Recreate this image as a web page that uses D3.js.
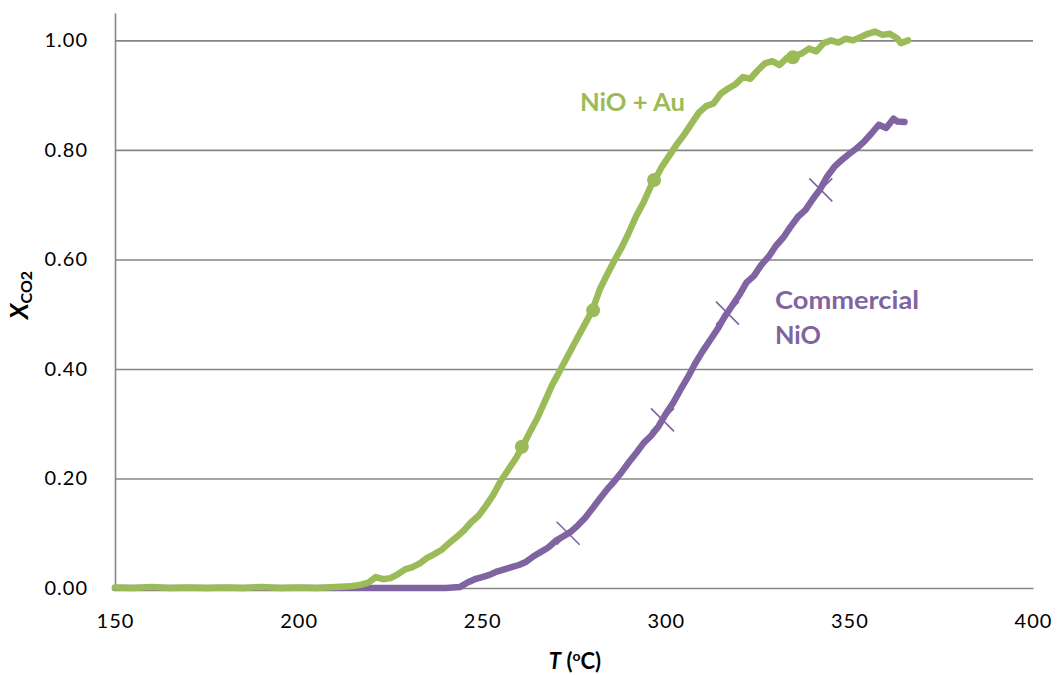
<!DOCTYPE html>
<html>
<head>
<meta charset="utf-8">
<script src="https://cdn.jsdelivr.net/npm/d3@7"></script>
<style>
  html, body { margin: 0; padding: 0; background: #fff; }
  svg { display: block; font-family: Lato, "Open Sans", sans-serif; }
</style>
</head>
<body>
<svg id="chart" width="1057" height="675"></svg>
<script>
// ---- data ----
const yTicks = [0, 0.2, 0.4, 0.6, 0.8, 1.0];
const xTicks = [150, 200, 250, 300, 350, 400];

const auT = [150,155,160,165,170,175,180,185,190,195,200,205,210,214,217,219,221,223,225,227,229,231,233,235,237,239,241,243,245,247,249,251,253,255,257,259,261,263,265,267,269,271,273,275,277,280,282,284,286,288,290,292,294,296,297,299,301,303,305,307,309,311,313,315,317,319,321,323,325,327,329,331,333,335,337,339,341,343,345,347,349,351,353,355,357,359,361,363,364,366];
const auX = [0.001,0,0.002,0,0.001,0,0.001,0,0.002,0,0.001,0,0.002,0.003,0.006,0.010,0.020,0.016,0.018,0.025,0.034,0.038,0.045,0.055,0.062,0.070,0.082,0.093,0.105,0.120,0.132,0.150,0.170,0.195,0.215,0.235,0.258,0.285,0.310,0.340,0.370,0.395,0.420,0.445,0.470,0.507,0.545,0.572,0.598,0.622,0.650,0.680,0.705,0.735,0.745,0.770,0.790,0.810,0.828,0.848,0.868,0.880,0.885,0.903,0.912,0.920,0.933,0.930,0.945,0.958,0.962,0.955,0.968,0.972,0.976,0.985,0.980,0.995,1.000,0.996,1.003,1.000,1.006,1.012,1.016,1.010,1.012,1.004,0.995,1.000];
const auMarkT = [260.8, 280.2, 296.8, 334.6];
const auMarkX = [0.258, 0.507, 0.745, 0.969];

const niT = [150,155,160,165,170,175,180,185,190,195,200,205,210,215,220,225,230,235,240,244,246,248,250,252,254,256,258,260,262,264,266,268,270,272,274,276,278,280,282,284,286,288,290,292,294,296,298,300,302,304,306,308,310,312,314,316,318,320,322,324,326,328,330,332,334,336,338,340,342,344,346,348,350,352,354,356,358,360,362,363,365];
const niX = [0,0,0,0,0,0,0,0,0,0,0,0,0,0,0,0,0,0,0,0.002,0.010,0.016,0.020,0.024,0.030,0.034,0.038,0.042,0.048,0.058,0.066,0.074,0.086,0.094,0.102,0.114,0.128,0.145,0.163,0.180,0.195,0.212,0.230,0.247,0.265,0.278,0.295,0.318,0.338,0.362,0.385,0.410,0.432,0.452,0.472,0.495,0.515,0.535,0.558,0.570,0.590,0.605,0.625,0.640,0.660,0.678,0.690,0.710,0.728,0.752,0.770,0.782,0.793,0.803,0.815,0.830,0.846,0.840,0.857,0.852,0.851];
const niMarkT = [273.4, 299.1, 316.8, 342.2];
const niMarkX = [0.100, 0.307, 0.502, 0.727];

const green = "#9BBB59";
const purple = "#8064A2";
const gridColor = "#868686";

// ---- layout ----
const svg = d3.select("#chart");
const x = d3.scaleLinear().domain([150, 400]).range([115, 1033]);
const y = d3.scaleLinear().domain([0, 1.05]).range([588, 13]);

// gridlines
svg.append("g")
  .attr("transform", `translate(${x(150)},0)`)
  .call(d3.axisLeft(y).tickValues(yTicks.filter(d => d > 0)).tickSize(-(x(400) - x(150))).tickFormat(""))
  .call(g => g.select(".domain").remove())
  .call(g => g.selectAll("line").attr("stroke", gridColor).attr("stroke-width", 1.6));

// y axis labels
svg.append("g")
  .attr("transform", `translate(${x(150)},0)`)
  .call(d3.axisLeft(y).tickValues(yTicks).tickSize(0).tickPadding(27).tickFormat(d3.format(".2f")))
  .call(g => g.select(".domain").attr("stroke", gridColor).attr("stroke-width", 1.6))
  .call(g => g.selectAll("text").attr("font-size", 20).attr("letter-spacing", 1).attr("fill", "#000").attr("font-family", "Lato, 'Open Sans', sans-serif"));

// x axis
svg.append("g")
  .attr("transform", `translate(0,${y(0)})`)
  .call(d3.axisBottom(x).tickValues(xTicks).tickSize(0).tickPadding(26).tickFormat(d3.format("d")))
  .call(g => g.select(".domain").attr("stroke", gridColor).attr("stroke-width", 1.6))
  .call(g => g.selectAll("text").attr("font-size", 20).attr("letter-spacing", 1).attr("fill", "#000").attr("font-family", "Lato, 'Open Sans', sans-serif"));

const line = d3.line().x(d => x(d[0])).y(d => y(d[1])).curve(d3.curveLinear);

// Commercial NiO (drawn first)
const niData = niT.map((t, i) => [t, niX[i]]);
svg.append("path").datum(niData)
  .attr("d", line).attr("fill", "none").attr("stroke", purple)
  .attr("stroke-width", 6.5).attr("stroke-linejoin", "round").attr("stroke-linecap", "round");
const s = 11.5;
svg.append("g").selectAll("path").data(niMarkT.map((t, i) => [t, niMarkX[i]])).join("path")
  .attr("d", d => {
    const cx = x(d[0]), cy = y(d[1]);
    return `M${cx - s},${cy - s}L${cx + s},${cy + s}M${cx - s},${cy + s}L${cx + s},${cy - s}`;
  })
  .attr("stroke", purple).attr("stroke-width", 1.6).attr("fill", "none");

// NiO + Au
const auData = auT.map((t, i) => [t, auX[i]]);
svg.append("path").datum(auData)
  .attr("d", line).attr("fill", "none").attr("stroke", green)
  .attr("stroke-width", 6.5).attr("stroke-linejoin", "round").attr("stroke-linecap", "round");
svg.append("g").selectAll("circle").data(auMarkT.map((t, i) => [t, auMarkX[i]])).join("circle")
  .attr("cx", d => x(d[0])).attr("cy", d => y(d[1])).attr("r", 7).attr("fill", green);

// series labels
svg.append("text").attr("x", 580).attr("y", 111).attr("fill", green)
  .attr("font-size", 24).attr("font-weight", "bold")
  .attr("textLength", 105).attr("lengthAdjust", "spacingAndGlyphs").text("NiO + Au");
const lab = svg.append("text").attr("fill", purple).attr("font-size", 24).attr("font-weight", "bold");
lab.append("tspan").attr("x", 775).attr("y", 309)
  .attr("textLength", 144).attr("lengthAdjust", "spacingAndGlyphs").text("Commercial");
lab.append("tspan").attr("x", 775).attr("y", 344)
  .attr("textLength", 46).attr("lengthAdjust", "spacingAndGlyphs").text("NiO");

// axis titles
const xt = svg.append("text").attr("x", 575).attr("y", 669).attr("text-anchor", "middle")
  .attr("font-size", 22).attr("font-weight", "bold").attr("fill", "#000");
xt.append("tspan").attr("font-style", "italic").text("T");
xt.append("tspan").text(" (");
xt.append("tspan").attr("font-size", 14).attr("dy", -8).text("o");
xt.append("tspan").attr("dy", 8).text("C)");

const yt = svg.append("text").attr("transform", "translate(28,295) rotate(-90)")
  .attr("text-anchor", "middle").attr("font-weight", "bold").attr("fill", "#000");
yt.append("tspan").attr("font-size", 25).attr("font-style", "italic").text("X");
yt.append("tspan").attr("font-size", 16).attr("dy", 4).text("CO2");
</script>
</body>
</html>
